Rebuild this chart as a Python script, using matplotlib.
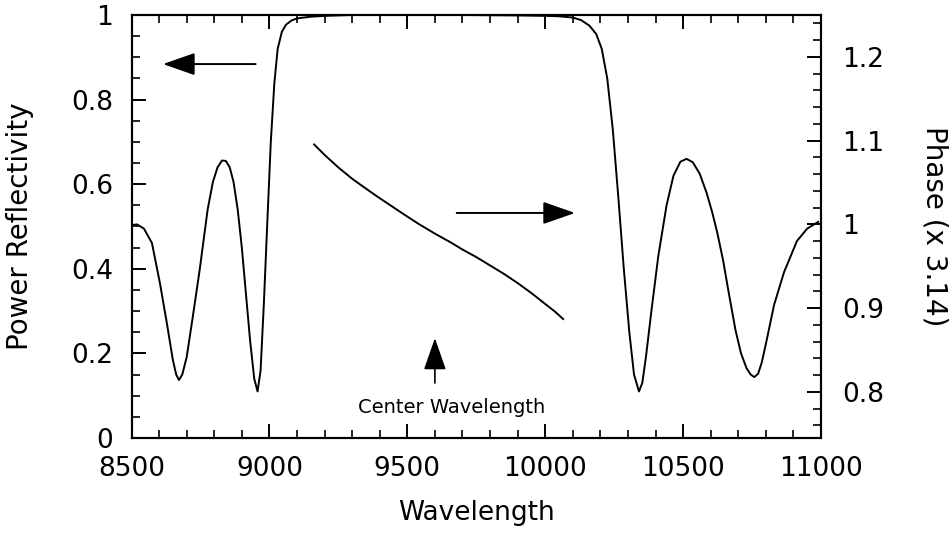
import matplotlib
matplotlib.use("Agg")
import matplotlib.pyplot as plt
from matplotlib.ticker import MultipleLocator

plt.rcParams['font.family'] = ['DejaVu Sans']

# Power reflectivity
wavelength = [8500, 8520, 8545, 8574, 8603, 8628, 8650, 8662, 8672, 8684,
              8700, 8722, 8747, 8776, 8795, 8812, 8828, 8842, 8856, 8870,
              8885, 8900, 8915, 8930, 8945, 8957, 8968, 8980, 8993, 9005,
              9018, 9030, 9045, 9060, 9080, 9100, 9150, 9200, 9300, 9500,
              9700, 9900, 10000, 10050, 10100, 10130, 10160, 10185, 10205, 10225,
              10245, 10265, 10285, 10305, 10322, 10340, 10352, 10365, 10385, 10410,
              10440, 10465, 10490, 10512, 10535, 10560, 10585, 10605, 10624, 10645,
              10665, 10690, 10710, 10730, 10745, 10758, 10772, 10785, 10800, 10830,
              10866, 10913, 10950, 10990]
reflectivity = [0.503, 0.505, 0.495, 0.461, 0.366, 0.272, 0.184, 0.150, 0.137, 0.150,
                0.191, 0.286, 0.397, 0.540, 0.605, 0.640, 0.656, 0.655, 0.640, 0.605,
                0.540, 0.450, 0.340, 0.230, 0.140, 0.110, 0.160, 0.320, 0.520, 0.700,
                0.840, 0.920, 0.960, 0.977, 0.987, 0.992, 0.996, 0.998, 1.000, 1.000,
                1.000, 0.999, 0.998, 0.997, 0.994, 0.988, 0.975, 0.955, 0.920, 0.850,
                0.730, 0.570, 0.400, 0.250, 0.150, 0.110, 0.130, 0.190, 0.300, 0.430,
                0.550, 0.620, 0.653, 0.660, 0.652, 0.625, 0.580, 0.535, 0.485, 0.420,
                0.345, 0.255, 0.200, 0.165, 0.150, 0.144, 0.152, 0.178, 0.222, 0.315,
                0.392, 0.466, 0.495, 0.511]

# Phase (in units of pi) inside the stop band
phase_wl = [9162, 9200, 9250, 9300, 9336, 9390, 9440, 9490, 9541, 9600,
            9660, 9700, 9750, 9805, 9850, 9900, 9950, 10000, 10035, 10065]
phase = [1.0955, 1.083, 1.068, 1.0545, 1.046, 1.0335, 1.0225, 1.0115, 1.0006, 0.989,
         0.978, 0.970, 0.961, 0.950, 0.941, 0.930, 0.918, 0.905, 0.896, 0.887]

fig = plt.figure(figsize=(9.51, 5.38), dpi=100)
ax = fig.add_axes([0.1383, 0.1859, 0.7250, 0.7862])
ax2 = ax.twinx()

ax.plot(wavelength, reflectivity, color='black', lw=1.4)
ax2.plot(phase_wl, phase, color='black', lw=1.4)

ax.set_xlim(8500, 11000)
ax.set_ylim(0, 1)
ax2.set_ylim(0.745, 1.25)

ax.xaxis.set_major_locator(MultipleLocator(500))
ax.xaxis.set_minor_locator(MultipleLocator(100))
ax.yaxis.set_minor_locator(MultipleLocator(0.05))
ax2.yaxis.set_minor_locator(MultipleLocator(0.02))
ax.set_yticks([0, 0.2, 0.4, 0.6, 0.8, 1.0])
ax.set_yticklabels(['0', '0.2', '0.4', '0.6', '0.8', '1'])
ax2.set_yticks([0.8, 0.9, 1.0, 1.1, 1.2])
ax2.set_yticklabels(['0.8', '0.9', '1', '1.1', '1.2'])

ax.tick_params(axis='x', which='both', direction='in', top=True, labelsize=19, pad=13)
ax.tick_params(axis='y', which='both', direction='in', right=False, labelsize=19, pad=13.5)
ax2.tick_params(axis='y', which='both', direction='in', labelsize=19, pad=15)
for a in (ax, ax2):
    a.tick_params(which='major', length=10, width=1.4)
    a.tick_params(which='minor', length=6, width=1.2)
    for s in a.spines.values():
        s.set_linewidth(1.5)

ax.set_xlabel('Wavelength', fontsize=19)
ax.xaxis.set_label_coords(0.5, -0.147)
ax.set_ylabel('Power Reflectivity', fontsize=20, va='center')
ax.yaxis.set_label_coords(-0.162, 0.5)
ax2.set_ylabel('Phase (x 3.14)', fontsize=20, rotation=270, va='center')
ax2.yaxis.set_label_coords(1.165, 0.5)

arrow = dict(arrowstyle='-|>,head_length=1.0,head_width=0.35', color='black',
             lw=1.4, mutation_scale=20, shrinkA=0, shrinkB=0)
ax.annotate('', xy=(8614, 0.884), xytext=(8950, 0.884), arrowprops=arrow)
ax.annotate('', xy=(10108, 0.532), xytext=(9679, 0.532), arrowprops=arrow)
ax.annotate('', xy=(9600, 0.236), xytext=(9600, 0.130),
            arrowprops=dict(arrowstyle='-|>,head_length=1.0,head_width=0.35',
                            color='black', lw=1.2, mutation_scale=20,
                            shrinkA=0, shrinkB=0))
ax.text(9661, 0.071, 'Center Wavelength', fontsize=14, ha='center', va='center')

fig.savefig('out.png', dpi=100)
